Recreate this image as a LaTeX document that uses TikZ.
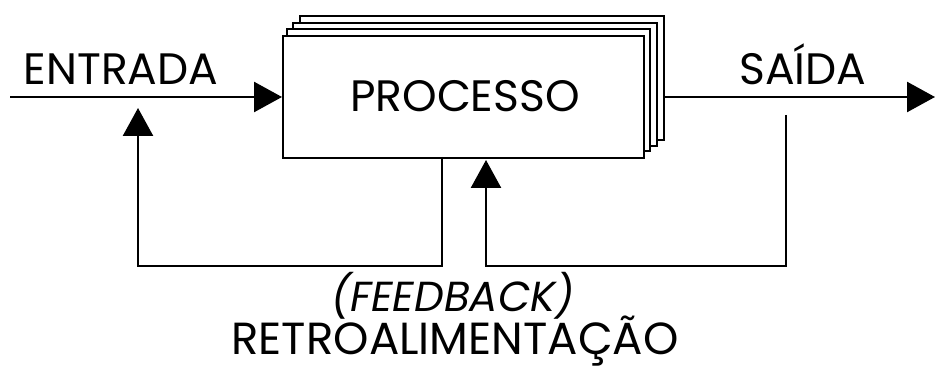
\documentclass[tikz,border=0pt]{standalone}
\usepackage{fontspec}
\setmainfont{Poppins}
\usetikzlibrary{arrows.meta}
\begin{document}
\begin{tikzpicture}[x=1pt,y=-1pt,
  wire/.style={line width=2.6pt},
  sheet/.style={draw,line width=2.2pt,fill=white},
  tri/.style={-{Triangle[length=28pt,width=30pt]}},
  lbl/.style={inner sep=0pt,anchor=base,font=\fontsize{44}{44}\selectfont}]
\useasboundingbox (0,0) rectangle (937,371);
% stacked sheets behind the process box
\draw[sheet] (300,16) rectangle (664,140);
\draw[sheet] (293,23) rectangle (657,146);
\draw[sheet] (287,29) rectangle (650,151);
\node[sheet,minimum width=361pt,minimum height=122pt,anchor=north west,inner sep=0pt] (proc) at (282,35) {};
\node[lbl] (ptxt) at (465,112) {PROCESSO};
% input and output
\coordinate (in) at (10,97);
\coordinate (out) at (935,97);
\coordinate (pout) at (664,97);
\draw[wire,tri] (in) -- (proc.west |- in);
\draw[wire,tri] (pout) -- (out);
\node[lbl] (entrada) at (121,85) {ENTRADA};
\node[lbl] (saida) at (803,85) {SAÍDA};
% feedback loops
\coordinate (l1) at (442,157);
\coordinate (l2) at (442,266);
\coordinate (l3) at (138,266);
\coordinate (l4) at (138,108);
\draw[wire,tri] (l1) -- (l2) -- (l3) -- (l4);
\coordinate (r1) at (786,115);
\coordinate (r2) at (786,266);
\coordinate (r3) at (486,266);
\coordinate (r4) at (486,160);
\draw[wire,tri] (r1) -- (r2) -- (r3) -- (r4);
\node[lbl,font=\fontsize{42}{42}\selectfont\itshape] (fb) at (453,312) {(FEEDBACK)};
\node[lbl,font=\fontsize{45}{45}\selectfont] (retro) at (455,354) {RETROALIMENTAÇÃO};
\end{tikzpicture}
\end{document}
